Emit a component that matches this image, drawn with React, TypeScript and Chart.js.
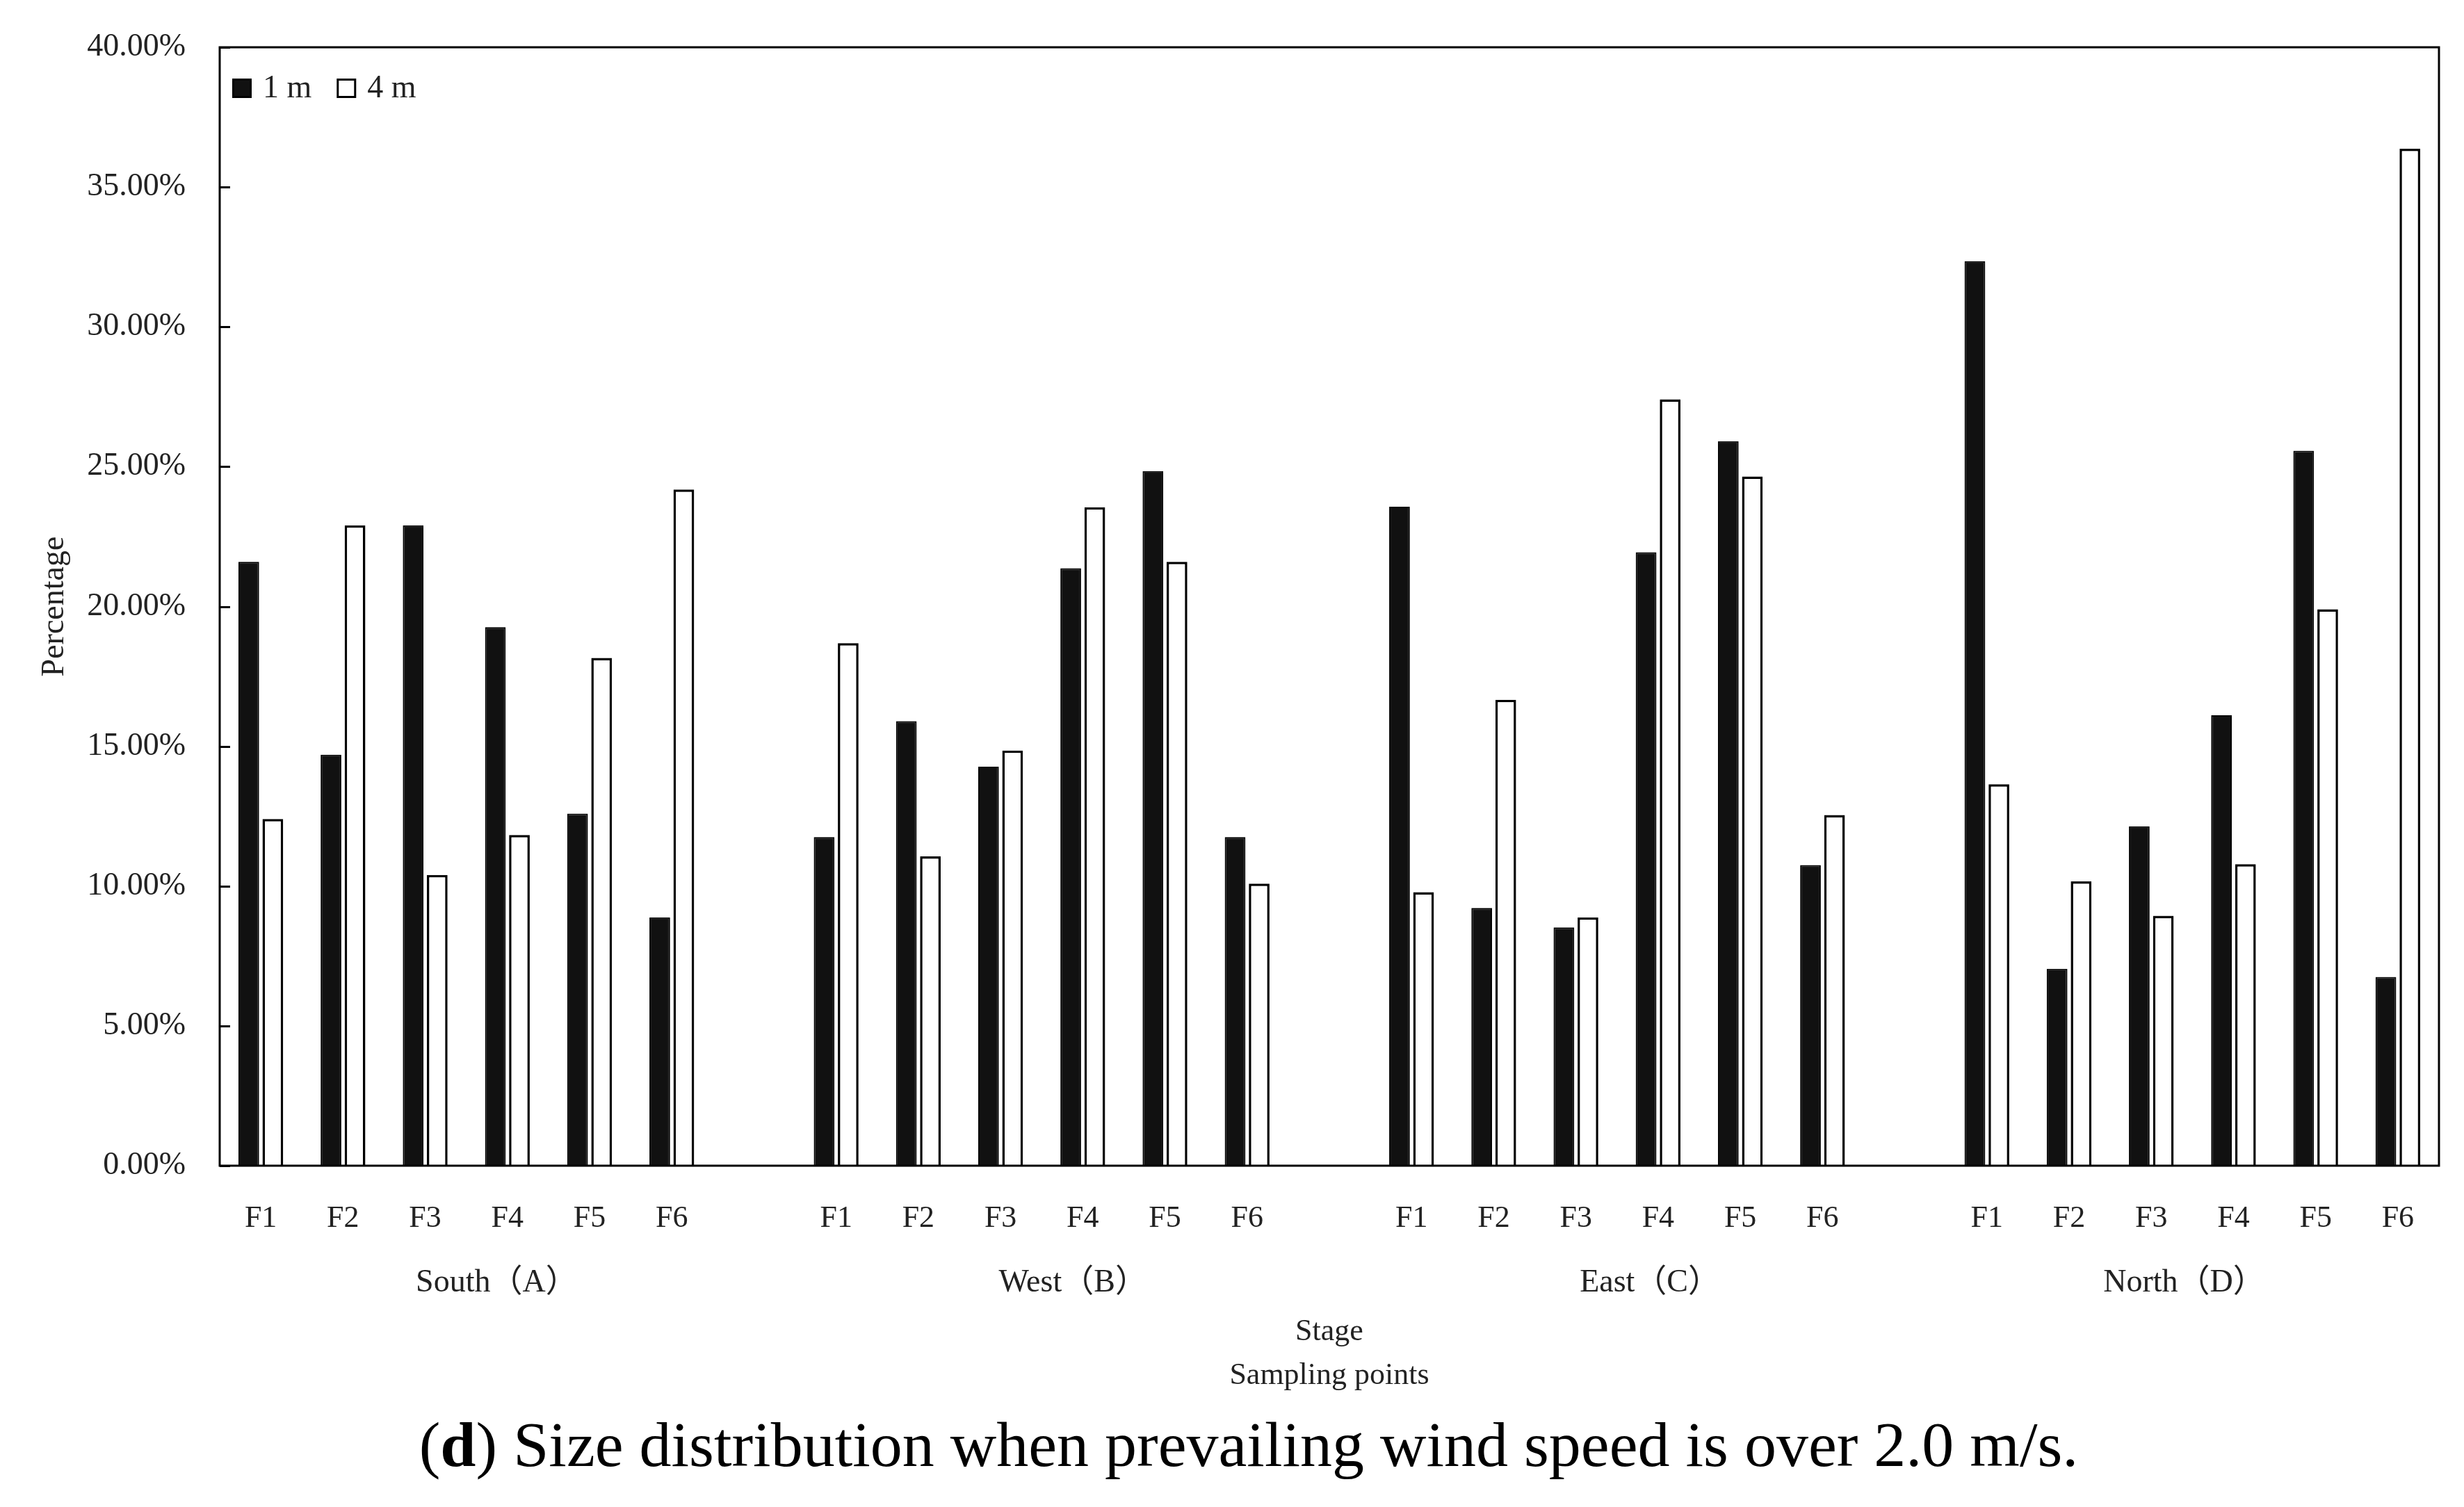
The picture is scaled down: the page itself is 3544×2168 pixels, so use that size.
import React, { useEffect, useRef } from "react";
import { Chart, registerables } from "chart.js";

Chart.register(...registerables);

// ---------------- data ----------------
const stages = ["F1", "F2", "F3", "F4", "F5", "F6"];
const groupNames = ["South（A）", "West（B）", "East（C）", "North（D）"];
const yTicks = [0, 5, 10, 15, 20, 25, 30, 35, 40];

const south1m = [21.6, 14.7, 22.9, 19.26, 12.59, 8.88];
const south4m = [12.4, 22.9, 10.4, 11.83, 18.16, 24.18];
const west1m = [11.75, 15.9, 14.27, 21.37, 24.84, 11.75];
const west4m = [18.69, 11.06, 14.85, 23.55, 21.6, 10.09];
const east1m = [23.57, 9.22, 8.52, 21.94, 25.91, 10.75];
const east4m = [9.78, 16.66, 8.88, 27.41, 24.65, 12.54];
const north1m = [32.35, 7.04, 12.14, 16.11, 25.57, 6.75];
const north4m = [13.64, 10.17, 8.94, 10.78, 19.9, 36.37];

const series1m = [south1m, west1m, east1m, north1m];
const series4m = [south4m, west4m, east4m, north4m];

// layout: where each group label is centred, as an index offset inside the group
const groupLabelOffset = [2.87, 2.88, 2.9, 2.4];

// ---------------- build table ----------------
const labels: string[] = [];
const data1m: (number | null)[] = [];
const data4m: (number | null)[] = [];
const groupStart: number[] = [];
groupNames.forEach((_, g) => {
  if (g > 0) {
    labels.push("");
    data1m.push(null);
    data4m.push(null);
  }
  groupStart.push(labels.length);
  stages.forEach((s, i) => {
    labels.push(s);
    data1m.push(series1m[g][i]);
    data4m.push(series4m[g][i]);
  });
});

const W = 3544;
const H = 2168;
const FONT = '"Liberation Serif", "Noto Sans CJK SC", serif';

const framePlugin = {
  id: "frameAndExtras",
  afterDatasetsDraw(chart: any) {
    const { ctx, chartArea: a, scales } = chart;
    const y = scales.y;
    const x = scales.x;
    ctx.save();
    // frame
    ctx.strokeStyle = "#000";
    ctx.lineWidth = 3;
    ctx.strokeRect(a.left, a.top, a.right - a.left, a.bottom - a.top);
    // inward tick marks
    y.ticks.forEach((t: any) => {
      const py = Math.round(y.getPixelForValue(t.value)) + 0.5;
      ctx.beginPath();
      ctx.moveTo(a.left, py);
      ctx.lineTo(a.left + 15, py);
      ctx.stroke();
    });
    // group labels
    ctx.fillStyle = "#222";
    ctx.font = `46px ${FONT}`;
    ctx.textAlign = "center";
    ctx.textBaseline = "middle";
    groupNames.forEach((name, g) => {
      const px = x.getPixelForValue(groupStart[g] + groupLabelOffset[g]);
      ctx.fillText(name, px, 1846);
    });
    // legend inside the plot area
    ctx.font = `46px ${FONT}`;
    ctx.textAlign = "left";
    let lx = a.left + 18;
    const box = 28;
    const ly = a.top + 45;
    chart.data.datasets.forEach((ds: any) => {
      ctx.fillStyle = ds.backgroundColor;
      ctx.fillRect(lx, ly, box, box);
      ctx.strokeStyle = ds.borderColor;
      ctx.lineWidth = 3;
      ctx.strokeRect(lx + 1.5, ly + 1.5, box - 3, box - 3);
      ctx.fillStyle = "#222";
      const tx = lx + box + 16;
      ctx.fillText(ds.label, tx, ly + box / 2 + 1);
      lx = tx + ctx.measureText(ds.label).width + 36;
    });
    ctx.restore();
  },
};

export default function App() {
  const ref = useRef<HTMLCanvasElement | null>(null);

  useEffect(() => {
    document.body.style.margin = "0";
    document.body.style.overflow = "hidden";
    Chart.defaults.font.family = FONT;
    const chart = new Chart(ref.current as HTMLCanvasElement, {
      type: "bar",
      data: {
        labels,
        datasets: [
          {
            label: "1 m",
            data: data1m,
            backgroundColor: "#111",
            borderColor: "#000",
            borderWidth: 2,
          },
          {
            label: "4 m",
            data: data4m,
            backgroundColor: "#fff",
            borderColor: "#000",
            borderWidth: 3.5,
          },
        ],
      },
      options: {
        responsive: false,
        animation: false,
        devicePixelRatio: 1,
        layout: { padding: { left: 0, right: 36, top: 68, bottom: 0 } },
        datasets: {
          bar: { categoryPercentage: 0.585, barPercentage: 0.86 },
        },
        plugins: {
          tooltip: { enabled: false },
          legend: { display: false },
        },
        scales: {
          x: {
            afterFit: (s: any) => {
              s.height = H - 1677;
              s.paddingLeft = 0;
              s.paddingRight = 0;
            },
            grid: { display: false },
            border: { display: false },
            ticks: {
              autoSkip: false,
              maxRotation: 0,
              padding: 42,
              color: "#222",
              font: { size: 44, family: FONT },
            },
            title: {
              display: true,
              text: ["Stage", "Sampling points"],
              color: "#222",
              font: { size: 44, family: FONT, lineHeight: 1.43 },
              padding: { top: 0, bottom: 157 },
            },
          },
          y: {
            min: 0,
            max: 40,
            afterFit: (s: any) => {
              s.width = 316;
              s.paddingTop = 0;
              s.paddingBottom = 0;
            },
            afterBuildTicks: (s: any) => {
              s.ticks = yTicks.map((v) => ({ value: v }));
            },
            grid: { display: true, drawOnChartArea: false, drawTicks: false },
            border: { display: false },
            ticks: {
              padding: 49,
              color: "#222",
              font: { size: 46, family: FONT },
              callback: (v: any) => Number(v).toFixed(2) + "%",
            },
            title: {
              display: true,
              text: "Percentage",
              color: "#222",
              font: { size: 46, family: FONT },
              padding: { top: 51, bottom: 0 },
            },
          },
        },
      },
      plugins: [framePlugin],
    } as any);
    return () => chart.destroy();
  }, []);

  return (
    <div
      style={{
        position: "fixed",
        left: 0,
        top: 0,
        width: W,
        height: H,
        background: "#fff",
      }}
    >
      <canvas ref={ref} width={W} height={H} style={{ width: W, height: H, display: "block" }} />
      <div
        style={{
          position: "absolute",
          left: 24,
          top: 2032,
          width: W,
          textAlign: "center",
          fontFamily: FONT,
          fontSize: 92,
          lineHeight: "92px",
          color: "#000",
          whiteSpace: "nowrap",
        }}
      >
        (<b>d</b>) Size distribution when prevailing wind speed is over 2.0 m/s.
      </div>
    </div>
  );
}
